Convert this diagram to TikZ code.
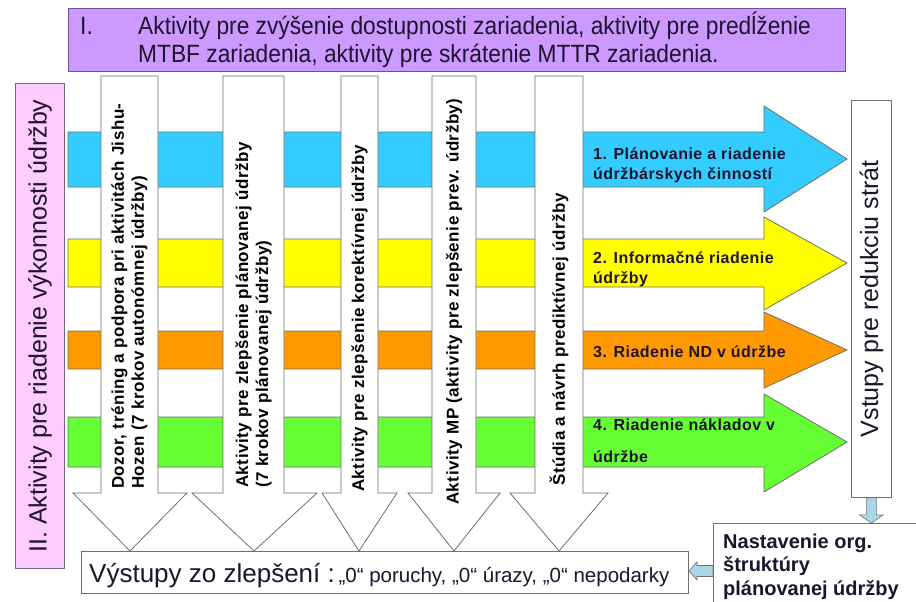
\documentclass[tikz,border=0pt]{standalone}
\usepackage{fontspec}
\setmainfont{Liberation Sans}
\newfontfamily\spacedfont[LetterSpace=3]{Liberation Sans}
\newfontfamily\narrowfont[FakeStretch=0.91]{Liberation Sans}
\definecolor{toppurple}{RGB}{204,153,255}
\definecolor{topborder}{RGB}{112,80,150}
\definecolor{leftpink}{RGB}{255,204,255}
\definecolor{pinkborder}{RGB}{120,100,130}
\definecolor{bandblue}{RGB}{51,204,255}
\definecolor{bandyellow}{RGB}{255,255,0}
\definecolor{bandorange}{RGB}{255,153,0}
\definecolor{bandgreen}{RGB}{102,255,51}
\definecolor{linegray}{RGB}{110,110,110}
\definecolor{arrowblue}{RGB}{170,215,230}
\definecolor{darktext}{RGB}{30,20,45}
\usetikzlibrary{calc}
\tikzset{
  bandarrow/.style={draw=linegray,line width=0.8pt},
  whitearrow/.style={draw=linegray,fill=white,line width=0.8pt},
  smallarrow/.style={draw=linegray,fill=arrowblue,line width=0.6pt},
  plainbox/.style={draw=linegray,fill=white,line width=0.8pt,anchor=north west,inner sep=0pt},
  vlabel/.style={rotate=90,anchor=west,align=left,inner sep=0pt,
    font=\spacedfont\bfseries\fontsize{17}{20}\selectfont},
  bandlabel/.style={anchor=base west,align=left,inner sep=0pt,text=darktext,
    font=\spacedfont\bfseries\fontsize{16}{20}\selectfont}
}

\begin{document}
\begin{tikzpicture}[x=1pt,y=-1pt]
  \useasboundingbox (0,0) rectangle (916,602);
  \fill[white] (0,0) rectangle (916,602);

  % I. top box
  \node[draw=topborder,fill=toppurple,line width=1pt,anchor=north west,inner sep=0pt,
    minimum width=777pt,minimum height=63pt] (topbox) at (68,8) {};
  \node[anchor=base west,inner sep=0pt,text=darktext,font=\narrowfont\fontsize{25}{28}\selectfont] (topnum) at (80,35) {I.};
  \node[anchor=base west,inner sep=0pt,align=left,text=darktext,font=\narrowfont\fontsize{25}{28}\selectfont] (toptext) at (138,63)
    {Aktivity pre zvýšenie dostupnosti zariadenia, aktivity pre predĺženie\\MTBF zariadenia, aktivity pre skrátenie MTTR zariadenia.};

  % II. left box
  \node[draw=pinkborder,fill=leftpink,line width=1pt,anchor=north west,inner sep=0pt,
    minimum width=49pt,minimum height=485pt] (leftbox) at (15,83) {};
  \node[rotate=90,inner sep=0pt,text=darktext,font=\fontsize{25}{28}\selectfont] (lefttext) at (leftbox.center)
    {II. Aktivity pre riadenie výkonnosti údržby};

  % horizontal band arrows
  \filldraw[bandarrow,fill=bandblue] (68,132) -- (764,132) -- (764,106) -- (847,159) -- (764,212) -- (764,187) -- (68,187) -- cycle;
  \filldraw[bandarrow,fill=bandyellow] (68,239) -- (764,239) -- (764,217) -- (847,263) -- (764,310) -- (764,287) -- (68,287) -- cycle;
  \filldraw[bandarrow,fill=bandorange] (68,331) -- (764,331) -- (764,312) -- (847,350) -- (764,388) -- (764,369) -- (68,369) -- cycle;
  \filldraw[bandarrow,fill=bandgreen] (68,417) -- (764,417) -- (764,394) -- (847,442) -- (764,492) -- (764,467) -- (68,467) -- cycle;

  % vertical white arrows
  \filldraw[whitearrow] (101,76) -- (158,76) -- (158,493) -- (187,493) -- (130,551) -- (73,493) -- (101,493) -- cycle;
  \filldraw[whitearrow] (223,76) -- (284,76) -- (284,493) -- (317,493) -- (254,551) -- (192,493) -- (223,493) -- cycle;
  \filldraw[whitearrow] (341,76) -- (378,76) -- (378,493) -- (397,493) -- (359,551) -- (322,493) -- (341,493) -- cycle;
  \filldraw[whitearrow] (432,76) -- (476,76) -- (476,493) -- (500,493) -- (454,551) -- (408,493) -- (432,493) -- cycle;
  \filldraw[whitearrow] (535,76) -- (583,76) -- (583,493) -- (608,493) -- (559,551) -- (510,493) -- (535,493) -- cycle;

  \node[vlabel] (act1) at (129.5,489) {Dozor, tréning a podpora pri aktivitách Jishu-\\Hozen (7 krokov autonómnej údržby)};
  \node[vlabel] (act2) at (253.5,488) {Aktivity pre zlepšenie plánovanej údržby\\(7 krokov plánovanej údržby)};
  \node[vlabel] (act3) at (359.5,492) {Aktivity pre zlepšenie korektívnej údržby};
  \node[vlabel] (act4) at (454,505) {Aktivity MP (aktivity pre zlepšenie prev. údržby)};
  \node[vlabel] (act5) at (559,486) {Štúdia a návrh prediktívnej údržby};

  % band labels
  \node[bandlabel] (band1) at (593,179) {1. Plánovanie a riadenie\\údržbárskych činností};
  \node[bandlabel] (band2) at (593,283) {2. Informačné riadenie\\údržby};
  \node[bandlabel] (band3) at (593,357) {3. Riadenie ND v údržbe};
  \node[bandlabel,font=\spacedfont\bfseries\fontsize{16}{32}\selectfont] (band4) at (593,462) {4. Riadenie nákladov v\\údržbe};

  % right box
  \node[plainbox,minimum width=40pt,minimum height=397pt] (vstupy) at (851,100) {};
  \node[rotate=90,inner sep=0pt,text=darktext,font=\fontsize{25}{28}\selectfont] (vstupytext) at (vstupy.center)
    {Vstupy pre redukciu strát};

  % bottom boxes
  \node[plainbox,minimum width=607pt,minimum height=42pt] (vystupy) at (81,551) {};
  \node[anchor=base west,inner sep=0pt,text=darktext] (vystupytext) at (89,582)
    {{\fontsize{26}{28}\selectfont Výstupy zo zlepšení :} {\fontsize{20.5}{22}\selectfont „0“ poruchy, „0“ úrazy, „0“ nepodarky}};
  \node[plainbox,minimum width=215pt,minimum height=90pt] (nast) at (713,523) {};
  \node[anchor=base west,inner sep=0pt,align=left,text=darktext,font=\bfseries\fontsize{20}{23.5}\selectfont] (nasttext) at (723,595)
    {Nastavenie org.\\štruktúry\\plánovanej údržby};

  % small arrows
  \coordinate (larrow) at (713,571);
  \filldraw[smallarrow] ($(vstupy.south)+(-5,0)$) -- ($(vstupy.south)+(5,0)$) -- ($(vstupy.south)+(5,17)$) -- ($(vstupy.south)+(12,17)$)
    -- (vstupy.south |- nast.north) -- ($(vstupy.south)+(-12,17)$) -- ($(vstupy.south)+(-5,17)$) -- cycle;
  \filldraw[smallarrow] ($(larrow)+(0,-5.5)$) -- ($(larrow)+(-16,-5.5)$) -- ($(larrow)+(-16,-9)$) -- (vystupy.east |- larrow)
    -- ($(larrow)+(-16,9)$) -- ($(larrow)+(-16,5.5)$) -- ($(larrow)+(0,5.5)$) -- cycle;
\end{tikzpicture}
\end{document}
